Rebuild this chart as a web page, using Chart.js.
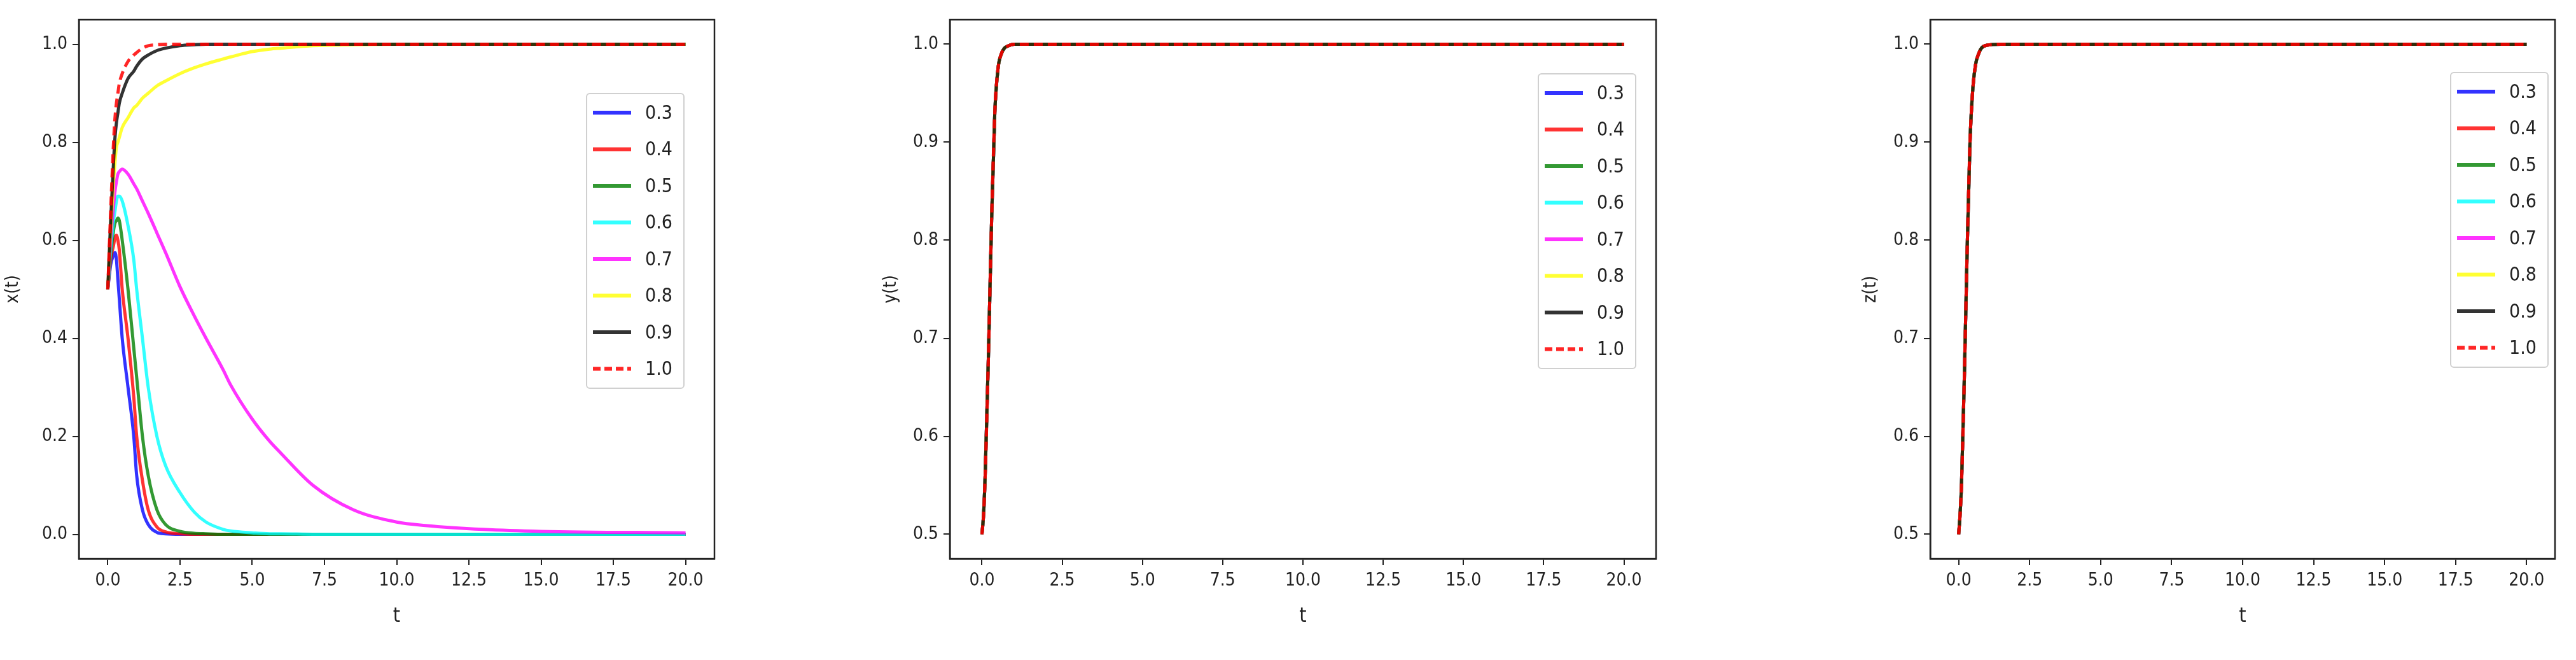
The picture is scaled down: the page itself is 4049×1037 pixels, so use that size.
<!DOCTYPE html>
<html>
<head>
<meta charset="utf-8">
<script src="https://cdn.jsdelivr.net/npm/chart.js@4"></script>
<style>
  body { margin: 0; background: #fff; width: 4049px; height: 1037px; position: relative; overflow: hidden; }
  canvas { position: absolute; top: 0; }
</style>
</head>
<body>
<canvas id="c1" width="1150" height="1037" style="left:0px"></canvas>
<canvas id="c2" width="1250" height="1037" style="left:1380px"></canvas>
<canvas id="c3" width="1129" height="1037" style="left:2920px"></canvas>
<script>
// legend labels and colours
const labels = ["0.3", "0.4", "0.5", "0.6", "0.7", "0.8", "0.9", "1.0"];
const colors = ["rgba(0,0,255,0.8)", "rgba(255,0,0,0.8)", "rgba(0,128,0,0.8)", "rgba(0,255,255,0.8)",
                "rgba(255,0,255,0.8)", "rgba(255,255,0,0.8)", "rgba(0,0,0,0.8)", "rgba(255,0,0,0.85)"];

// x(t) panel, time points and values
const t1 = [0, 0.1, 0.2, 0.25, 0.3, 0.35, 0.4, 0.5, 0.7, 0.9, 1.0, 1.2, 1.4, 1.7, 2.0, 2.5, 3.0, 3.4, 4.0, 4.25, 5.0, 5.6, 6.0, 7.1, 8.5, 10, 11, 13, 15, 20];
const x03 = [0.5, 0.55, 0.57, 0.575, 0.56, 0.52, 0.48, 0.4, 0.3, 0.2, 0.12, 0.05, 0.02, 0.004, 0.001, 0, 0, 0, 0, 0, 0, 0, 0, 0, 0, 0, 0, 0, 0, 0];
const x04 = [0.5, 0.56, 0.59, 0.605, 0.61, 0.6, 0.58, 0.5, 0.4, 0.28, 0.2, 0.11, 0.05, 0.015, 0.005, 0.001, 0, 0, 0, 0, 0, 0, 0, 0, 0, 0, 0, 0, 0, 0];
const x05 = [0.5, 0.57, 0.62, 0.635, 0.64, 0.645, 0.64, 0.6, 0.5, 0.38, 0.32, 0.2, 0.12, 0.05, 0.02, 0.006, 0.002, 0.001, 0, 0, 0, 0, 0, 0, 0, 0, 0, 0, 0, 0];
const x06 = [0.5, 0.58, 0.64, 0.66, 0.68, 0.69, 0.69, 0.68, 0.63, 0.56, 0.5, 0.4, 0.3, 0.2, 0.14, 0.085, 0.045, 0.025, 0.01, 0.007, 0.003, 0.001, 0.001, 0, 0, 0, 0, 0, 0, 0];
const x07 = [0.5, 0.6, 0.67, 0.7, 0.72, 0.735, 0.74, 0.745, 0.735, 0.715, 0.705, 0.68, 0.655, 0.615, 0.575, 0.505, 0.445, 0.4, 0.335, 0.305, 0.235, 0.19, 0.165, 0.1, 0.05, 0.025, 0.018, 0.01, 0.006, 0.003];
const x08 = [0.5, 0.62, 0.72, 0.76, 0.79, 0.8, 0.81, 0.83, 0.85, 0.87, 0.875, 0.89, 0.9, 0.915, 0.925, 0.94, 0.952, 0.96, 0.97, 0.974, 0.985, 0.99, 0.992, 0.997, 0.999, 1, 1, 1, 1, 1];
const x09 = [0.5, 0.64, 0.76, 0.81, 0.84, 0.86, 0.88, 0.9, 0.93, 0.945, 0.955, 0.97, 0.978, 0.987, 0.992, 0.997, 0.999, 1, 1, 1, 1, 1, 1, 1, 1, 1, 1, 1, 1, 1];
const x10 = [0.5, 0.66, 0.8, 0.85, 0.88, 0.9, 0.92, 0.94, 0.965, 0.978, 0.983, 0.992, 0.997, 0.999, 1, 1, 1, 1, 1, 1, 1, 1, 1, 1, 1, 1, 1, 1, 1, 1];
const xSeries = [x03, x04, x05, x06, x07, x08, x09, x10];

// y(t) and z(t) panels: all eight curves lie on top of each other
const t2 = [0, 0.05, 0.1, 0.2, 0.3, 0.4, 0.5, 0.6, 0.7, 0.8, 1.0, 1.5, 20];
const yCurve = [0.5, 0.52, 0.56, 0.68, 0.82, 0.93, 0.975, 0.99, 0.996, 0.998, 1, 1, 1];
const zCurve = [0.5, 0.52, 0.55, 0.66, 0.79, 0.9, 0.955, 0.98, 0.99, 0.996, 0.999, 1, 1];

const xTicks = [0, 2.5, 5, 7.5, 10, 12.5, 15, 17.5, 20];
const yTicks1 = [0, 0.2, 0.4, 0.6, 0.8, 1.0];
const yTicks2 = [0.5, 0.6, 0.7, 0.8, 0.9, 1.0];

const FONT = "'DejaVu Sans Condensed', 'DejaVu Sans', sans-serif";

function makeDatasets(t, series) {
  return series.map((vals, i) => ({
    label: labels[i],
    data: t.map((tv, k) => ({ x: tv, y: vals[k] })),
    borderColor: colors[i],
    borderWidth: 5,
    borderDash: i === 7 ? [14, 8] : [],
    pointRadius: 0,
    cubicInterpolationMode: "monotone",
    order: 8 - i,
    fill: false
  }));
}

const boxPlugin = {
  id: "box",
  afterDraw(chart, args, opts) {
    const ctx = chart.ctx, a = chart.chartArea;
    ctx.save();
    ctx.strokeStyle = "#222";
    ctx.lineWidth = 2.5;
    ctx.strokeRect(a.left, a.top, a.right - a.left, a.bottom - a.top);
    // legend box inside the plot
    const w = 153, h = 463, rowH = 57.5;
    const x0 = a.right - opts.right - w, y0 = a.top + opts.top;
    ctx.fillStyle = "rgba(255,255,255,0.85)";
    ctx.strokeStyle = "#d0d0d0";
    ctx.lineWidth = 2;
    ctx.beginPath();
    ctx.roundRect(x0, y0, w, h, 5);
    ctx.fill();
    ctx.stroke();
    chart.data.datasets.forEach((ds, i) => {
      const yy = y0 + 30 + i * rowH;
      ctx.strokeStyle = ds.borderColor;
      ctx.lineWidth = 6;
      ctx.setLineDash(ds.borderDash.length ? [12, 6] : []);
      ctx.beginPath();
      ctx.moveTo(x0 + 10, yy);
      ctx.lineTo(x0 + 70, yy);
      ctx.stroke();
      ctx.setLineDash([]);
      ctx.fillStyle = "#222";
      ctx.font = "30px " + FONT;
      ctx.textBaseline = "middle";
      ctx.fillText(ds.label, x0 + 92, yy + 2);
    });
    ctx.restore();
  }
};

function makeChart(id, datasets, yTicks, yMin, yMax, yTitle, yWidth, padRight, legendRight, legendTop) {
  const tickOpts = { color: "#222", font: { size: 28, family: FONT }, padding: 8 };
  return new Chart(document.getElementById(id), {
    type: "line",
    data: { datasets },
    options: {
      responsive: false,
      devicePixelRatio: 1,
      animation: false,
      layout: { padding: { top: 31, right: padRight, bottom: 45, left: 0 } },
      plugins: { legend: { display: false }, tooltip: { enabled: false }, box: { right: legendRight, top: legendTop } },
      scales: {
        x: {
          type: "linear", min: -1, max: 21,
          afterBuildTicks: s => { s.ticks = xTicks.map(v => ({ value: v })); },
          afterFit: s => { s.height = 114; },
          ticks: { ...tickOpts, callback: v => v.toFixed(1), maxRotation: 0 },
          grid: { drawOnChartArea: false, color: "#222", tickLength: 10, lineWidth: 2 },
          border: { color: "#222", width: 2.5 },
          title: { display: true, text: "t", color: "#222", font: { size: 32, family: FONT }, padding: 4 }
        },
        y: {
          type: "linear", min: yMin, max: yMax,
          afterBuildTicks: s => { s.ticks = yTicks.map(v => ({ value: v })); },
          afterFit: s => { s.width = yWidth; },
          ticks: { ...tickOpts, callback: v => v.toFixed(1) },
          grid: { drawOnChartArea: false, color: "#222", tickLength: 10, lineWidth: 2 },
          border: { color: "#222", width: 2.5 },
          title: { display: true, text: yTitle, color: "#222", font: { size: 28, family: FONT }, padding: 4 }
        }
      }
    },
    plugins: [boxPlugin]
  });
}

makeChart("c1", makeDatasets(t1, xSeries), yTicks1, -0.05, 1.05, "x(t)", 124, 27, 48, 116);
makeChart("c2", makeDatasets(t2, labels.map(() => yCurve)), yTicks2, 0.475, 1.025, "y(t)", 113, 27, 32, 85);
makeChart("c3", makeDatasets(t2, labels.map(() => zCurve)), yTicks2, 0.475, 1.025, "z(t)", 114, 33, 11, 83);
</script>
</body>
</html>
